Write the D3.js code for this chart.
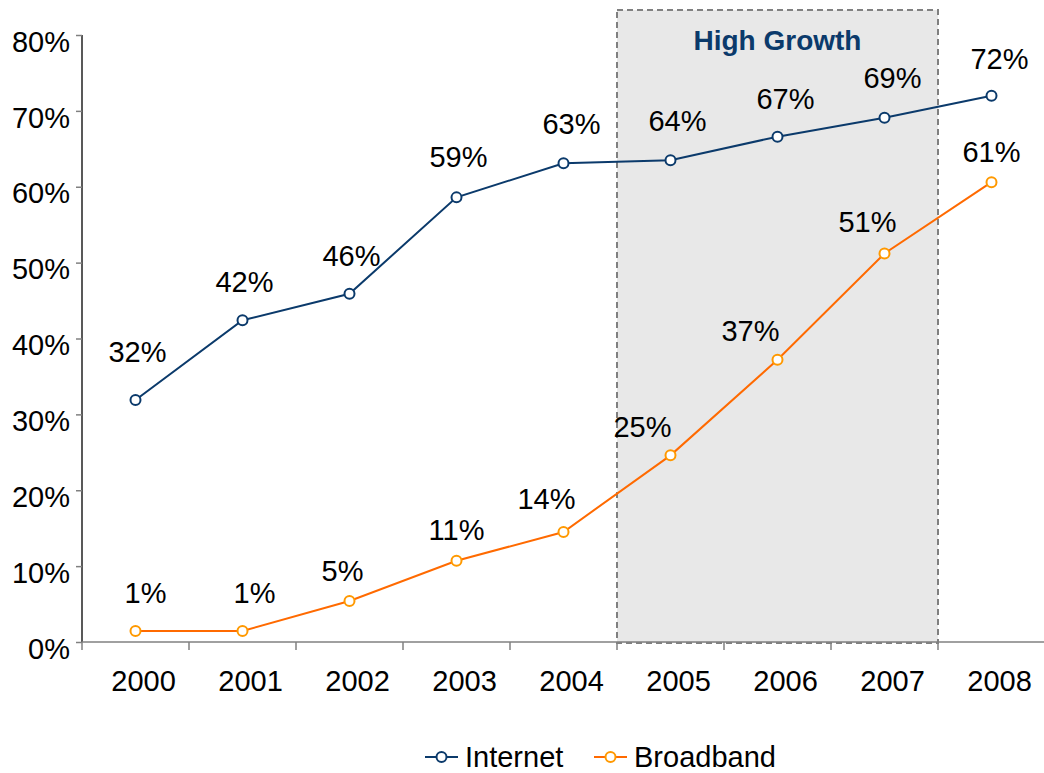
<!DOCTYPE html>
<html>
<head>
<meta charset="utf-8">
<script src="https://cdn.jsdelivr.net/npm/d3@7"></script>
<style>
  body { margin: 0; background: #fff; }
  svg { font-family: "Liberation Sans", Arial, sans-serif; }
</style>
</head>
<body>
<div id="chart"></div>
<script>
const years = ["2000", "2001", "2002", "2003", "2004", "2005", "2006", "2007", "2008"];
const internet = [31.9, 42.4, 45.9, 58.6, 63.1, 63.5, 66.6, 69.1, 72.0];
const broadband = [1.45, 1.45, 5.4, 10.7, 14.5, 24.6, 37.2, 51.2, 60.6];
const internetLabels = ["32%", "42%", "46%", "59%", "63%", "64%", "67%", "69%", "72%"];
const broadbandLabels = ["1%", "1%", "5%", "11%", "14%", "25%", "37%", "51%", "61%"];
const yTicks = [0, 10, 20, 30, 40, 50, 60, 70, 80];
const highGrowthYears = ["2005", "2006", "2007"];

// label nudges (dx, dy from the point), layout only
const internetNudge = [[2, -38], [2, -28], [2, -28], [2, -30], [8, -29], [7, -29], [8, -28], [8, -30], [8, -27]];
const broadbandNudge = [[10, -28], [12, -28], [-7, -20], [0, -21], [-17, -23], [-28, -18], [-27, -19], [-17, -22], [0, -20]];

const width = 1044, height = 773;
const margin = { top: 35, right: -1, bottom: 131, left: 82 };
const fs = 29;

const svg = d3.select("#chart").append("svg")
  .attr("width", width)
  .attr("height", height);

const x = d3.scaleBand()
  .domain(years)
  .range([margin.left, width - margin.right]);

const y = d3.scaleLinear()
  .domain([0, 80])
  .range([height - margin.bottom, margin.top]);

const cx = d => x(d) + x.bandwidth() / 2;

// high growth shading
const hgX0 = x(highGrowthYears[0]);
const hgX1 = x(highGrowthYears[highGrowthYears.length - 1]) + x.bandwidth();
svg.append("rect")
  .attr("x", hgX0)
  .attr("y", 10)
  .attr("width", hgX1 - hgX0)
  .attr("height", y(0) - 10 + 1)
  .attr("fill", "#e8e8e8")
  .attr("stroke", "#808080")
  .attr("stroke-width", 2)
  .attr("stroke-dasharray", "6,4");

svg.append("text")
  .attr("x", (hgX0 + hgX1) / 2)
  .attr("y", 50)
  .attr("text-anchor", "middle")
  .attr("font-size", 28)
  .attr("font-weight", "bold")
  .attr("fill", "#0b3a6b")
  .text("High Growth");

// axes
const yAxis = svg.append("g")
  .attr("transform", `translate(${margin.left},0)`)
  .call(d3.axisLeft(y).tickValues(yTicks).tickSize(6).tickFormat(d => d + "%"));

const xAxis = svg.append("g")
  .attr("transform", `translate(0,${y(0)})`)
  .call(d3.axisBottom(x).tickSize(0).tickPadding(28));

[yAxis, xAxis].forEach(g => {
  g.select(".domain").attr("stroke", "#808080").attr("stroke-width", 1.5);
  g.selectAll(".tick line").attr("stroke", "#808080").attr("stroke-width", 1.5);
  g.selectAll("text").attr("font-size", fs).attr("fill", "#000")
    .attr("font-family", "Liberation Sans, Arial, sans-serif");
});
yAxis.select(".domain").attr("d", `M0,${y(80)}V${y(0)}`).attr("stroke", "#222");
yAxis.selectAll("text").attr("dy", "0.35em").attr("y", 6).attr("x", -12);
xAxis.selectAll("text").attr("x", 8);

// x tick marks at category boundaries
svg.append("g")
  .selectAll("line")
  .data(years)
  .join("line")
  .attr("x1", d => x(d))
  .attr("x2", d => x(d))
  .attr("y1", y(0))
  .attr("y2", y(0) + 8)
  .attr("stroke", "#808080")
  .attr("stroke-width", 1.5);
xAxis.select(".domain").attr("d", `M${margin.left},0H${width}`);

// series
const series = [
  { name: "Internet", values: internet, labels: internetLabels, nudge: internetNudge, line: "#0b3a6b", marker: "#0b3a6b" },
  { name: "Broadband", values: broadband, labels: broadbandLabels, nudge: broadbandNudge, line: "#ff6a00", marker: "#ff9900" }
];

const line = d3.line()
  .x((d, i) => cx(years[i]))
  .y(d => y(d));

series.forEach(s => {
  svg.append("path")
    .datum(s.values)
    .attr("fill", "none")
    .attr("stroke", s.line)
    .attr("stroke-width", 2)
    .attr("d", line);

  svg.append("g")
    .selectAll("circle")
    .data(s.values)
    .join("circle")
    .attr("cx", (d, i) => cx(years[i]))
    .attr("cy", d => y(d))
    .attr("r", 5)
    .attr("fill", "#fff")
    .attr("stroke", s.marker)
    .attr("stroke-width", 2);

  svg.append("g")
    .selectAll("text")
    .data(s.values)
    .join("text")
    .attr("x", (d, i) => cx(years[i]) + s.nudge[i][0])
    .attr("y", (d, i) => y(d) + s.nudge[i][1])
    .attr("text-anchor", "middle")
    .attr("font-size", fs)
    .attr("fill", "#000")
    .text((d, i) => s.labels[i]);
});

// legend
const legend = svg.append("g").attr("transform", `translate(0,${757})`);
const legendX = [425, 594];
series.forEach((s, i) => {
  const g = legend.append("g").attr("transform", `translate(${legendX[i]},0)`);
  g.append("line").attr("x1", 0).attr("x2", 33).attr("y1", 0).attr("y2", 0)
    .attr("stroke", s.line).attr("stroke-width", 2);
  g.append("circle").attr("cx", 16.5).attr("cy", 0).attr("r", 5)
    .attr("fill", "#fff").attr("stroke", s.marker).attr("stroke-width", 2);
  g.append("text").attr("x", 40).attr("y", 10).attr("font-size", fs).attr("fill", "#000").text(s.name);
});
</script>
</body>
</html>
